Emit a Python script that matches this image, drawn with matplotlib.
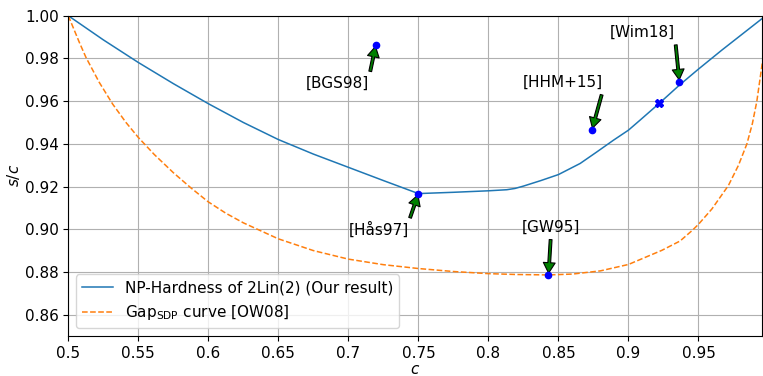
import matplotlib
matplotlib.use("Agg")
import matplotlib.pyplot as plt

plt.rcParams.update({'font.size': 11})

# NP-hardness curve (our result)
hard_c = [0.5, 0.525, 0.55, 0.575, 0.6, 0.625, 0.65, 0.675, 0.7, 0.725, 0.75, 0.775, 0.8,
          0.8131, 0.819, 0.825, 0.8375, 0.85, 0.8655, 0.8774, 0.8893, 0.9, 0.9083, 0.9219,
          0.9364, 0.95, 0.9667, 0.9957]
hard_sc = [1.0, 0.9887, 0.9781, 0.9682, 0.9588, 0.9500, 0.9420, 0.9352, 0.9290, 0.9228, 0.9167,
           0.9173, 0.9180, 0.9185, 0.9191, 0.9202, 0.9228, 0.9256, 0.9308, 0.9362, 0.9417, 0.9464,
           0.9511, 0.9589, 0.9675, 0.9750, 0.9839, 0.9988]

# Gap_SDP curve [OW08]
sdp_c = [0.5, 0.5079, 0.5126, 0.5221, 0.5317, 0.5412, 0.55, 0.5614, 0.575, 0.5875, 0.6, 0.6125,
         0.625, 0.65, 0.675, 0.7, 0.725, 0.75, 0.775, 0.8, 0.82, 0.8429, 0.86, 0.88, 0.9, 0.9238,
         0.9369, 0.9453, 0.95, 0.9596, 0.9714, 0.9786, 0.9846, 0.9885, 0.9917, 0.9957]
sdp_sc = [1.0, 0.9875, 0.9805, 0.9688, 0.9586, 0.9500, 0.9430, 0.9350, 0.9265, 0.9194, 0.9128, 0.9075,
          0.9030, 0.8955, 0.8900, 0.8860, 0.8834, 0.8816, 0.8802, 0.8792, 0.8788, 0.8786, 0.8790, 0.8805,
          0.8835, 0.8901, 0.8945, 0.8993, 0.9023, 0.9095, 0.9205, 0.9300, 0.9400, 0.9495, 0.9600, 0.9785]

# known results
ref_names = ['[BGS98]', '[Hås97]', '[GW95]', '[HHM+15]', '[Wim18]']
ref_c = [0.7196, 0.75, 0.8429, 0.8739, 0.9364]
ref_sc = [0.9863, 0.9167, 0.8785, 0.9464, 0.9690]
label_c = [0.6698, 0.700, 0.8238, 0.8246, 0.8869]
label_sc = [0.9663, 0.8972, 0.8988, 0.9666, 0.9900]

# the cross marker
cross_c = [0.9219]
cross_sc = [0.9589]

xticks = [0.5, 0.55, 0.6, 0.65, 0.7, 0.75, 0.8, 0.85, 0.9, 0.95]
xticklabels = ['0.5', '0.55', '0.6', '0.65', '0.7', '0.75', '0.8', '0.85', '0.9', '0.95']

fig = plt.figure(figsize=(7.63, 3.76), dpi=100)
ax = fig.add_axes([0.0895, 0.1064, 0.9098, 0.8518])

ax.plot(hard_c, hard_sc, color='#1f77b4', lw=1.1, label='NP-Hardness of 2Lin(2) (Our result)')
ax.plot(sdp_c, sdp_sc, color='#ff7f0e', lw=1.1, ls='--', label=r'Gap$_{\mathrm{SDP}}$ curve [OW08]')

ax.plot(ref_c, ref_sc, 'o', color='blue', ms=4.5, zorder=4)
ax.plot(cross_c, cross_sc, 'X', color='blue', ms=6, zorder=4)

for name, c, s, tc, ts in zip(ref_names, ref_c, ref_sc, label_c, label_sc):
    ax.annotate(name, xy=(c, s), xytext=(tc, ts),
                arrowprops=dict(facecolor='green', edgecolor='black', shrink=0.05,
                                width=2, headwidth=8.5, headlength=7.5, lw=0.8))

ax.set_xlim(0.5, 0.9957)
ax.set_ylim(0.85, 1.0)
ax.set_xticks(xticks)
ax.set_xticklabels(xticklabels)
ax.set_yticks([0.86, 0.88, 0.90, 0.92, 0.94, 0.96, 0.98, 1.00])
ax.grid(True)
ax.set_xlabel(r'$c$', labelpad=1)
ax.set_ylabel(r'$s/c$', labelpad=2)
ax.legend(loc='lower left')

fig.savefig('out.png', dpi=100)
